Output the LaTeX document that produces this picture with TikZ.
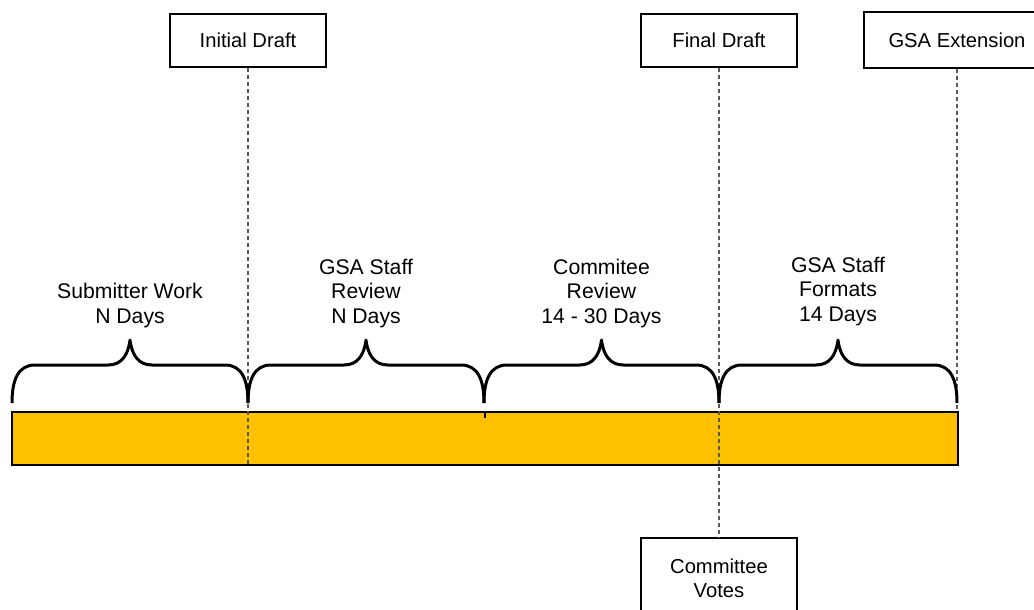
\documentclass[tikz,border=0pt]{standalone}
\usepackage{fontspec}
\setmainfont{Liberation Sans}
\usetikzlibrary{positioning}

\definecolor{barorange}{HTML}{FFC000}

\tikzset{
  stagebox/.style={draw, line width=0.75pt, fill=white, minimum width=78pt, minimum height=26.5pt,
    inner sep=2pt, font=\fontsize{10.1}{11.8}\selectfont},
  guide/.style={draw=black!65, dash pattern=on 2pt off 1.5pt, line width=0.6pt},
  brace/.style={line width=1.5pt, line join=round},
  span/.style={align=center, inner sep=0pt, anchor=south, font=\fontsize{10.6}{12.2}\selectfont},
}

\begin{document}
\begin{tikzpicture}[x=0.5pt, y=-0.5pt]
  \useasboundingbox (0,0) rectangle (1034,610);

  % Timeline bar
  \node[draw, line width=1pt, fill=barorange, minimum width=473pt, minimum height=26.5pt,
    inner sep=0pt] (bar) at (485,438.5) {};
  \draw[line width=0.8pt] (bar.north) -- ++(0,7);

  % Milestones
  \node[stagebox] (initial) at (248,40.5) {Initial Draft};
  \node[stagebox] (final) at (719,40.5) {Final Draft};
  \node[stagebox, minimum width=93pt, minimum height=28pt] (ext) at (957,40) {GSA Extension};
  \node[stagebox, minimum height=40pt, align=center] (votes) at (719,578) {Committee\\Votes};

  % Guide lines
  \draw[guide] (initial.south) -- (initial.south |- bar.south);
  \draw[guide] (final.south) -- (votes.north);
  \draw[guide] (ext.south) -- (ext.south |- bar.north);

  % Braces
  \foreach \a/\b in {12/248, 248/484, 484/719, 719/957} {
    \pgfmathsetmacro{\m}{(\a+\b)/2}
    \draw[brace] (\a,403) .. controls (\a,380) and (\a+6,365) .. (\a+23,365) -- (\m-22,365)
      .. controls (\m-9,365) and (\m-2,356) .. (\m,340)
      .. controls (\m+2,356) and (\m+9,365) .. (\m+22,365) -- (\b-23,365)
      .. controls (\b-6,365) and (\b,380) .. (\b,403);
  }

  % Phase labels
  \node[span] (work) at (130,328) {Submitter Work\\N Days};
  \node[span] (staffreview) at (366,328) {GSA Staff\\Review\\N Days};
  \node[span] (comreview) at (601.5,328) {Commitee\\Review\\14 - 30 Days};
  \node[span] (formats) at (838,326) {GSA Staff\\Formats\\14 Days};
\end{tikzpicture}
\end{document}
